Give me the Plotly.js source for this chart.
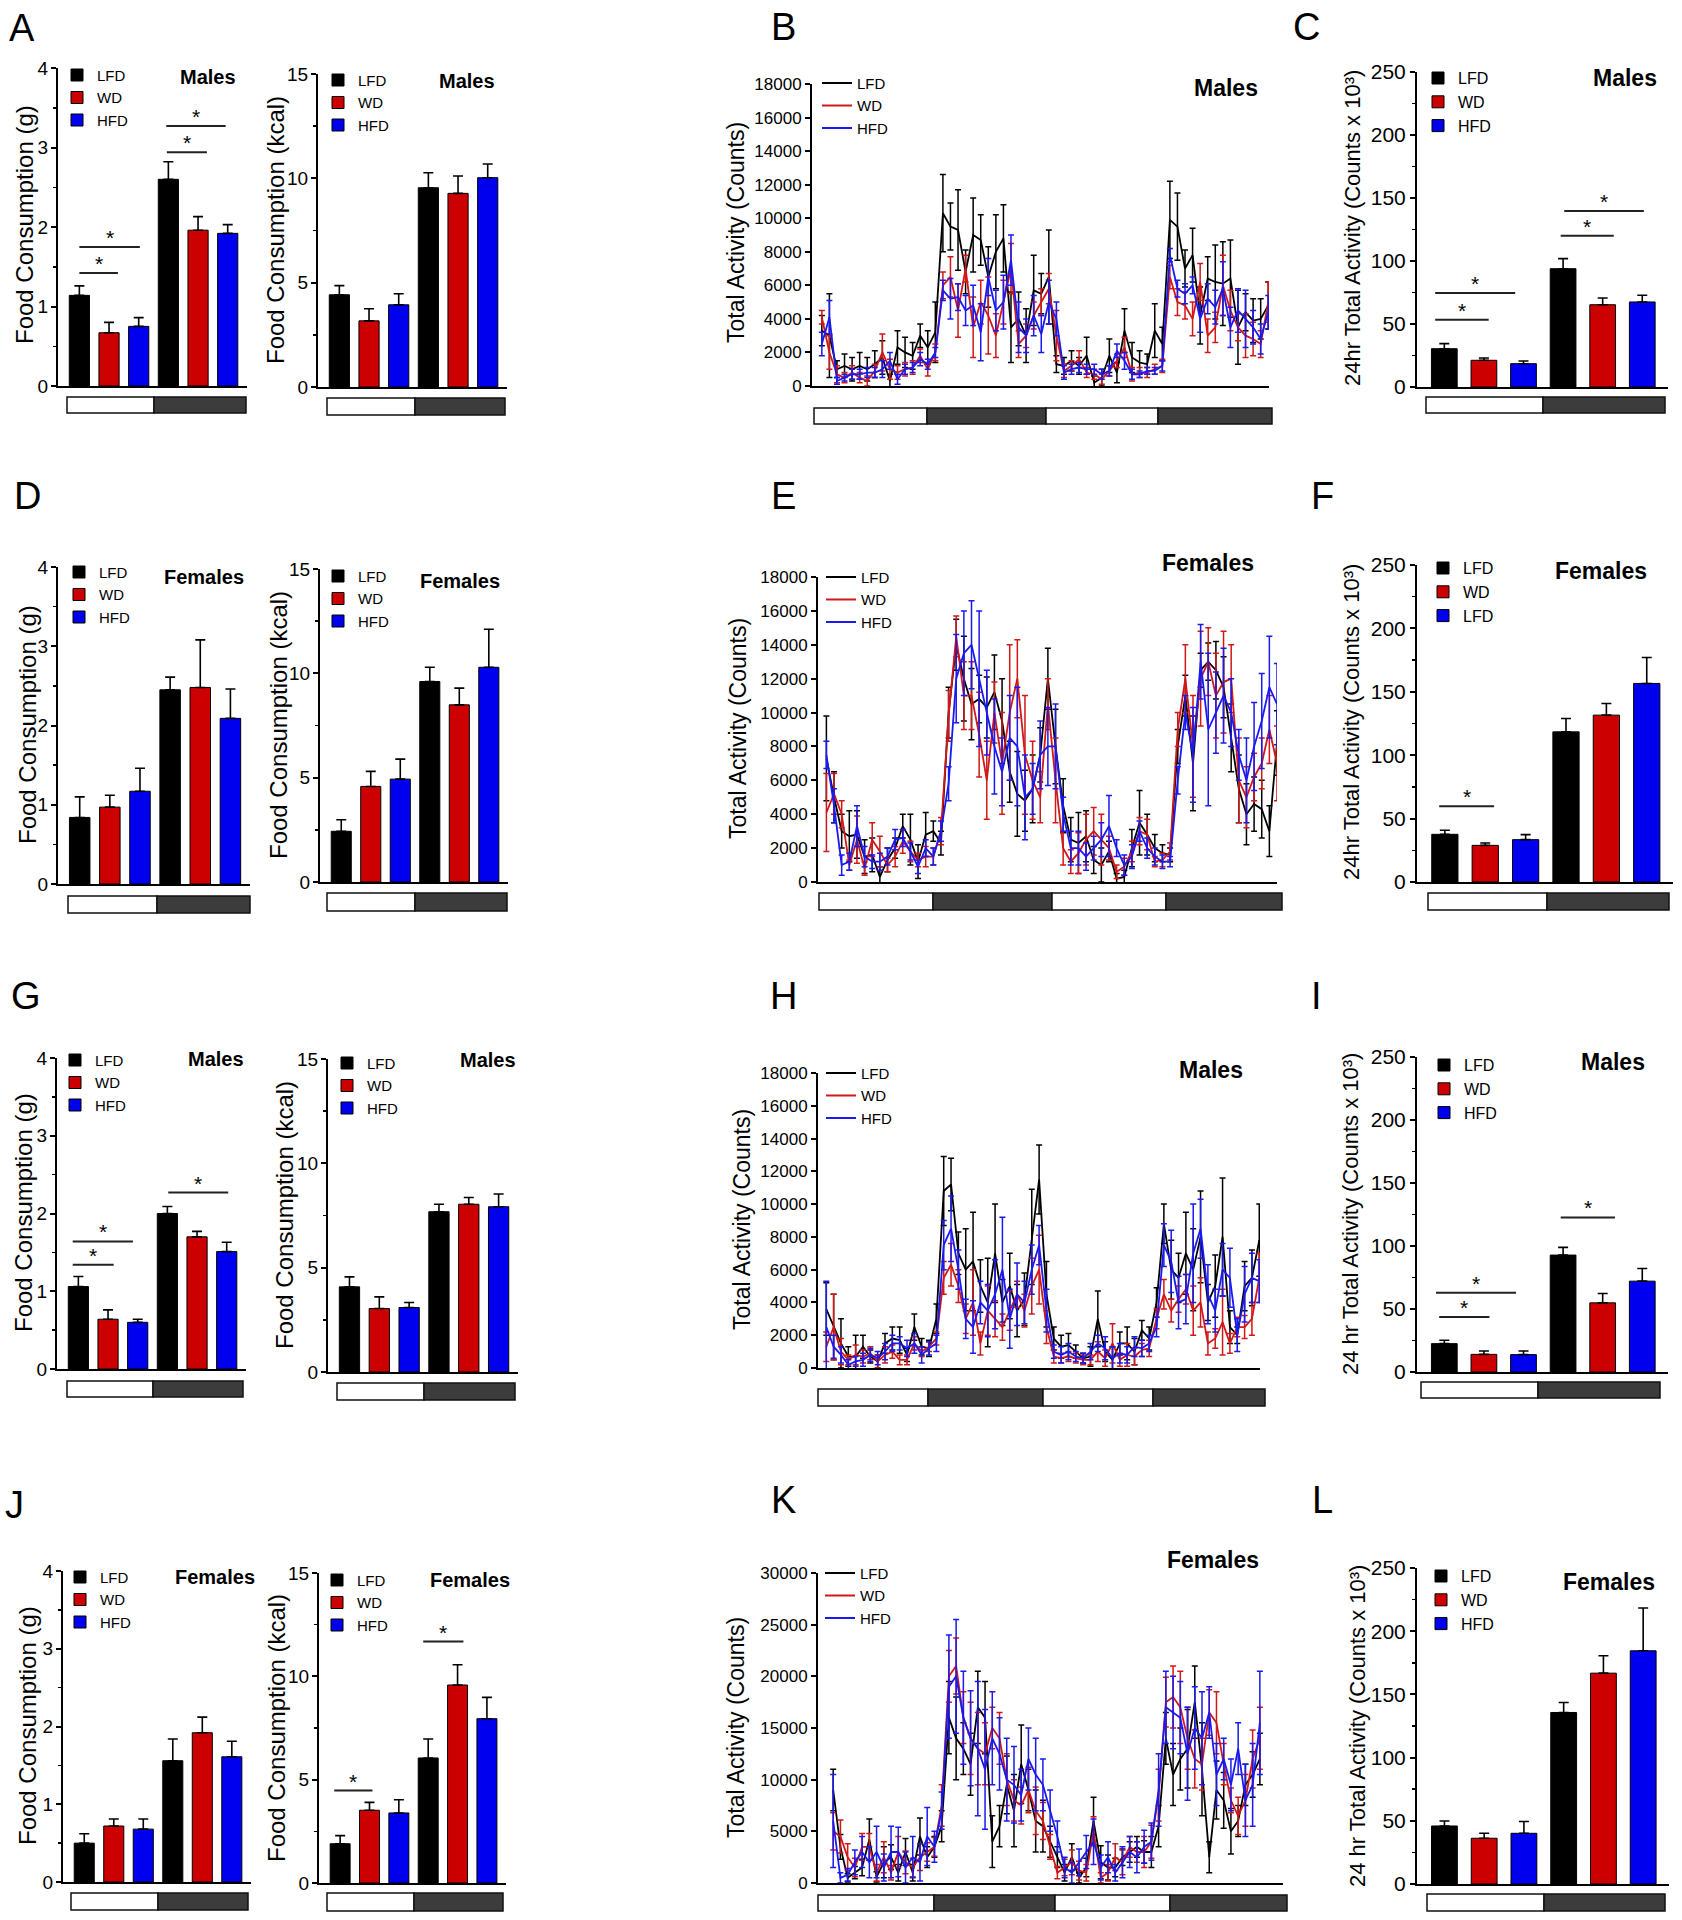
<!DOCTYPE html>
<html><head><meta charset="utf-8">
<script src="https://cdn.plot.ly/plotly-3.0.1.min.js"></script>
<style>html,body{margin:0;padding:0;background:#fff}#chart{width:1682px;height:1920px}</style>
</head><body><div id="chart"></div>
<script>
// ---------------- DATA ----------------
const diets = ['LFD', 'WD', 'HFD'];
const dietsF = ['LFD', 'WD', 'LFD']; // legend as printed in panel F
// bar order: light LFD, WD, HFD, dark LFD, WD, HFD
const A_gram = [1.14, 0.67, 0.75, 2.60, 1.96, 1.92];
const A_gram_sem = [0.12, 0.13, 0.11, 0.22, 0.17, 0.11];
const A_kcal = [4.42, 3.17, 3.94, 9.55, 9.28, 10.03];
const A_kcal_sem = [0.44, 0.58, 0.53, 0.72, 0.83, 0.66];
const C_act = [30.4, 21.2, 18.5, 93.9, 65.3, 67.5];
const C_act_sem = [4.0, 1.8, 2.1, 8.0, 5.3, 5.3];
const D_gram = [0.84, 0.97, 1.17, 2.45, 2.48, 2.09];
const D_gram_sem = [0.26, 0.15, 0.29, 0.16, 0.60, 0.37];
const D_kcal = [2.43, 4.58, 4.93, 9.61, 8.49, 10.29];
const D_kcal_sem = [0.55, 0.72, 0.96, 0.68, 0.80, 1.82];
const F_act = [37.6, 28.9, 33.4, 118.4, 131.6, 156.6];
const F_act_sem = [3.2, 1.9, 4.0, 10.6, 9.2, 20.5];
const G_gram = [1.06, 0.64, 0.60, 2.00, 1.70, 1.51];
const G_gram_sem = [0.13, 0.12, 0.04, 0.09, 0.07, 0.12];
const G_kcal = [4.08, 3.04, 3.09, 7.68, 8.04, 7.92];
const G_kcal_sem = [0.48, 0.56, 0.24, 0.36, 0.32, 0.61];
const I_act = [22.5, 14.0, 13.8, 92.8, 54.9, 72.1];
const I_act_sem = [2.7, 2.7, 2.9, 6.1, 7.4, 10.1];
const J_gram = [0.50, 0.72, 0.68, 1.56, 1.92, 1.61];
const J_gram_sem = [0.12, 0.09, 0.13, 0.28, 0.20, 0.20];
const J_kcal = [1.90, 3.52, 3.39, 6.05, 9.58, 7.95];
const J_kcal_sem = [0.39, 0.38, 0.64, 0.92, 0.98, 1.03];
const L_act = [45.9, 36.2, 40.1, 135.7, 166.8, 184.5];
const L_act_sem = [4.0, 3.9, 9.3, 7.9, 13.8, 33.8];

// time series (activity counts per bin, 60 bins over 48 h)
const B_LFD = [3300,3000,1000,1200,1000,1200,1000,1300,1700,300, 2300,2000,1800,3000,2300,3200,10300,9500,9300,6800, 9000,8700,6500,8000,8800,3500,4000,3000,5700,5500, 6500,1300,1200,1500,1200,1800,200,500,1800,800, 3300,1700,1400,1300,3300,2500,9900,9500,7000,7800, 4200,6400,6200,6100,6400,3500,4400,3900,4000,4800];
const B_WD = [4100,2000,700,500,800,500,300,900,2000,1000, 800,1000,1100,1800,1000,2000,6000,6500,4500,7000, 3500,5000,4200,3000,5000,7000,2500,3000,4200,5000, 5800,3000,900,1200,1600,800,700,400,900,1500, 2300,700,800,800,1000,1200,6500,5000,4800,4000, 6200,3000,3500,6000,4500,3500,3000,2800,2500,5000];
const B_HFD = [2500,4100,300,500,700,700,800,800,1000,1500, 400,1000,1100,1600,1300,2000,5700,5200,5300,4500, 4800,3200,6500,4500,5000,7500,3500,3000,4200,3100, 5000,4000,800,1000,1100,1000,1000,700,900,2100, 1500,700,700,900,900,1200,7800,5800,5500,6000, 4000,5200,4700,5800,3500,4500,4000,3500,2800,4400];
const B_LFD_sem = [900,2500,500,700,700,800,700,800,1000,400, 1000,900,800,700,1000,1800,2300,1400,2400,1300, 2200,1500,1800,2200,2000,2100,1600,1600,2100,1200, 2800,500,500,600,500,1100,400,500,1000,600, 1300,900,700,600,1600,1000,2300,2000,1100,1600, 1700,1300,2200,2500,2300,2200,1100,1300,1200,1400];
const B_WD_sem = [400,1000,500,300,400,300,300,400,1100,600, 400,400,400,400,400,500,800,1200,1600,800, 1800,1300,2300,1300,1300,1500,800,700,800,800, 900,1500,400,300,500,300,300,300,300,400, 600,400,300,300,300,400,700,800,800,1000, 1100,1000,900,1800,1200,800,1300,1000,800,1200];
const B_HFD_sem = [700,1000,200,200,300,300,300,300,500,500, 300,300,300,400,300,300,600,1200,800,900, 1200,1700,1100,1200,1600,1500,1500,1000,1200,1100, 1300,1000,400,300,300,300,300,300,300,400, 500,300,200,200,200,300,400,500,600,500, 800,900,1000,1600,1200,1300,1700,1000,900,1000];

const E_LFD = [7300,5000,3000,2700,2800,1500,1600,300,1300,2000, 3300,2500,1200,2800,3000,2300,10000,14000,12000,10500, 10800,10300,11200,9500,6500,5200,4800,5500,7500,12000, 8000,4500,2500,2300,2700,1300,1000,1800,200,300, 2000,3500,2800,2000,1700,1600,8000,11000,7000,12500, 13000,12500,11500,8500,5500,4000,4600,4300,3000,8200];
const E_WD = [4100,5200,4000,1000,2500,800,2500,1800,1000,1500, 2400,1800,1300,1500,1500,3000,9800,14500,11000,11000, 8700,6000,10000,7000,10000,12000,7500,6000,5000,10500, 6000,2000,1200,1700,2500,3000,2500,2000,600,900, 1800,3000,2800,1200,1300,1800,9000,12000,8000,12000, 13000,11000,11800,12000,6000,5000,6200,7000,9000,7000];
const E_HFD = [7500,4500,1000,1200,3300,1500,1200,1200,1500,2500, 2600,1800,900,2000,1500,3000,5800,12000,13500,14000, 12000,10000,8000,6500,8500,8000,5000,5500,7500,8000, 8000,4000,2000,2000,1500,2000,2500,3300,2000,1000, 1500,3000,2000,1500,1200,1200,6000,10000,7500,13000, 9000,10000,11000,10000,7500,6000,8000,9500,11500,10500];
const E_LFD_sem = [2500,1500,1000,1500,1400,1000,1000,600,700,600, 700,1500,1000,1300,600,700,1500,1500,2500,2100, 1400,1800,2200,2500,1800,2500,1800,2000,1600,1800, 2200,1600,1300,1800,1500,800,1000,600,300,400, 1100,1900,1200,800,500,400,1000,1200,2800,1000, 1100,1700,1800,2000,2000,1800,1600,1700,1500,1900];
const E_WD_sem = [2300,1200,800,300,1400,400,1000,900,400,600, 700,600,400,600,500,800,1500,1200,2000,2000, 2500,2300,1800,3000,4000,2300,3500,2300,1500,1500, 2500,1000,700,1200,1500,1400,1500,700,400,500, 600,800,900,300,400,500,1000,2000,3000,2800, 2000,2500,3000,2000,2500,1800,1400,1500,2000,2200];
const E_HFD_sem = [800,1000,600,500,1200,600,400,500,500,600, 500,500,400,500,500,600,1000,2600,2500,2600, 4000,2500,2800,2000,2500,3500,2500,1500,2000,2300, 2500,1000,1000,1000,800,700,1000,1800,500,600, 700,600,600,500,400,300,800,1000,2800,2200, 4500,2400,2800,2000,1500,2500,2600,2800,3000,2400];

const H_LFD = [3600,2500,1500,700,700,1300,700,400,1500,1800, 1700,800,2500,1300,1200,3000,10800,11200,7000,6000, 6500,5000,4000,7000,4000,5000,3500,4200,8000,11500, 4500,1800,1300,1400,1000,600,700,3000,1000,500, 1500,1500,1000,2300,1800,4000,8800,6000,5500,7000, 6000,8000,4000,5000,8000,2500,2000,5000,5500,7800];
const H_WD = [1300,2500,1000,500,800,700,900,400,800,1000, 500,500,1500,1000,1300,1800,5500,6300,5000,3000, 4000,1500,3500,3000,2500,3500,4500,3500,5000,6000, 2500,700,600,700,600,500,500,1000,600,1500, 500,800,700,1100,1200,3000,4500,3500,4200,4800, 3500,4000,1500,1800,2800,1500,2500,2500,3000,5500];
const H_HFD = [2500,1300,800,200,400,500,800,600,1000,1500, 1500,1200,1500,800,1200,1500,7500,8500,6000,3000, 2500,4000,3500,4500,6000,3000,4500,4000,6000,7500, 3500,1000,800,1000,700,600,1000,1500,1200,600, 900,800,1300,1200,1500,2500,7500,6500,4000,4200, 7000,8500,4500,3500,6000,5500,2000,4500,5500,5300];
const H_LFD_sem = [1600,2000,1500,600,1300,700,400,400,600,700, 800,400,800,500,500,900,2100,1600,1300,2500, 3000,1600,2700,3000,1400,2000,1600,1600,2900,2100, 2000,700,700,700,400,300,600,1700,600,800, 700,1000,800,600,700,900,1200,1800,1500,2500, 2500,2800,1100,1900,3600,1000,500,1500,1700,2200];
const H_WD_sem = [900,2000,800,300,600,400,400,400,500,400, 300,300,400,300,300,400,1000,1300,1000,900, 2000,700,1500,1100,800,1200,800,1000,1700,2100, 1000,400,300,300,300,300,300,600,500,1200, 400,700,500,400,500,600,900,700,800,900, 1500,1500,700,600,2000,600,600,700,1000,1500];
const H_HFD_sem = [2800,700,500,300,300,400,400,400,500,500, 400,500,600,500,400,500,1500,2000,1200,1200, 1600,1300,1600,2100,3200,1800,1900,1300,1500,1200, 1300,400,500,500,300,300,500,500,700,700, 600,500,600,500,500,600,1300,1900,1600,1500, 3000,1800,1800,1300,1600,1800,1000,1700,1500,1300];

const K_LFD = [9000,3500,500,1000,1500,4200,600,2000,2500,1000, 3000,1000,4500,2500,3500,5500,16000,14000,13000,11500, 17000,16000,4000,5500,9500,7000,11500,9000,6000,5500, 4000,2500,1000,2500,500,1500,6000,2000,1500,1500, 2500,3000,3500,3000,3000,5500,14000,10500,12000,13000, 17500,11000,2500,9000,8000,5000,6000,9500,10500,12000];
const K_WD = [5000,4500,2500,1500,3500,3500,1000,2500,1000,3000, 2000,1500,2500,3000,3500,7500,20000,21000,16000,14000, 13000,12500,15000,14000,10000,8000,7500,9000,7000,6000, 3500,1000,1500,2000,1200,1000,5000,500,1000,2500, 2000,3500,3000,3000,4000,8500,17500,18000,17000,14000, 12000,11500,16500,15500,11500,8000,6500,8000,12000,14000];
const K_HFD = [6000,500,800,2000,3000,2000,3000,1500,3000,3000, 1500,2500,2000,4500,3500,7000,19000,20000,16000,14000, 13000,11000,14000,12500,10000,9500,8500,12000,10500,9500, 7000,4500,1500,1000,2000,3000,4000,1500,2500,1000, 2000,3000,2500,3500,4000,9000,17000,16500,16000,12500, 15000,14000,16500,10500,12000,9500,13000,8000,9500,15500];
const K_LFD_sem = [2000,1200,400,600,800,2000,500,1500,1200,800, 1300,800,1800,1000,1000,1500,3500,4000,2500,3000, 3500,3500,2500,2000,2800,3500,3800,2000,3000,2500, 1500,1000,800,1300,500,900,2300,1600,1200,900, 800,1000,1000,1100,1500,2000,2500,3000,3000,3800, 3500,4500,1500,2800,2700,2200,1500,2000,2200,2500];
const K_WD_sem = [1800,1600,1300,900,1300,1300,800,1500,700,1500, 1100,900,1300,900,900,2000,2500,2700,2500,3500, 3500,3000,2000,2500,2500,2000,1800,2200,2300,1800, 1200,600,800,1200,900,800,1400,500,800,1300, 1200,1000,1000,1500,1600,2500,2400,3000,3500,3000, 2800,2500,2200,3000,2000,1200,1800,2500,2800,3000];
const K_HFD_sem = [4500,500,600,1200,1500,1500,2500,1300,2500,2400, 1500,2000,1800,2800,1500,1800,5000,5500,4500,4600, 6500,5800,4500,3500,4000,3700,2500,3000,3500,2500, 2000,1500,1000,1000,1300,1600,2200,1200,1500,800, 1500,1500,1500,1600,1800,3500,3500,3500,3500,4500, 4000,4500,2500,3000,2000,2500,2500,3500,4000,5000];

// ---------------- LAYOUT HELPERS ----------------
const W = 1682, H = 1920;
const px = v => v / W;
const py = v => 1 - v / H;
const SANS = 'Liberation Sans, Arial, Helvetica, sans-serif';
const barColors = ['#000000', '#cc0000', '#0000ee'];
const lineColors = ['#000000', '#d01818', '#1a1af0'];
const titleAct = '24hr Total Activity (Counts x 10\u00B3)';
const titleAct2 = '24 hr Total Activity (Counts x 10\u00B3)';

const panels = [
  // Row 1
  {kind:'food', mean:A_gram, sem:A_gram_sem, names:diets, box:[58,247,68,386], ymax:4, dtick:1, minor:0.5, title:'Food Consumption (g)', tx:24, ty:225, sex:'Males', sxy:[208,77], leg:[77,75], ld:[67,154,246], ldy:[397,413], sig:[[0,1.3,1.42],[0,2.04,1.75],[2.95,4.3,2.94],[2.93,4.93,3.27]]},
  {kind:'food', mean:A_kcal, sem:A_kcal_sem, names:diets, box:[318,507,74,387], ymax:15, dtick:5, minor:2.5, title:'Food Consumption (kcal)', tx:276, ty:230, sex:'Males', sxy:[467,81], leg:[338,80], ld:[327,415,505], ldy:[398,415], sig:[]},
  {kind:'line', series:[B_LFD,B_WD,B_HFD], sems:[B_LFD_sem,B_WD_sem,B_HFD_sem], box:[812,1269,84,386], ymax:18000, dtick:2000, xr:[-1.3,59.1], title:'Total Activity (Counts)', tx:736, ty:233, sex:'Males', sxy:[1226,88], leg:[837,83], ld:[814,927,1046,1158,1272], ldy:[408,424]},
  {kind:'act', mean:C_act, sem:C_act_sem, names:diets, box:[1417,1668,72,387], ymax:250, dtick:50, minor:25, title:titleAct, tx:1352, ty:228, sex:'Males', sxy:[1625,78], leg:[1438,78], ld:[1426,1543,1665], ldy:[397,413], sig:[[-0.23,1.12,53.4],[-0.23,1.79,74.6],[2.94,4.28,120],[3.03,5.04,139.7]]},
  // Row 2
  {kind:'food', mean:D_gram, sem:D_gram_sem, names:diets, box:[58,250,567,884], ymax:4, dtick:1, minor:0.5, title:'Food Consumption (g)', tx:27, ty:725, sex:'Females', sxy:[204,577], leg:[79,572], ld:[68,157,250], ldy:[896,913], sig:[]},
  {kind:'food', mean:D_kcal, sem:D_kcal_sem, names:diets, box:[320,508,569,882], ymax:15, dtick:5, minor:2.5, title:'Food Consumption (kcal)', tx:278, ty:725, sex:'Females', sxy:[460,581], leg:[338,576], ld:[327,415,507], ldy:[893,911], sig:[]},
  {kind:'line', series:[E_LFD,E_WD,E_HFD], sems:[E_LFD_sem,E_WD_sem,E_HFD_sem], box:[818,1277,577,882], ymax:18000, dtick:2000, xr:[-1.1,59.0], title:'Total Activity (Counts)', tx:738, ty:729, sex:'Females', sxy:[1208,563], leg:[841,577], ld:[819,933,1052,1166,1282], ldy:[893,910]},
  {kind:'act', mean:F_act, sem:F_act_sem, names:dietsF, box:[1417,1673,565,882], ymax:250, dtick:50, minor:25, title:titleAct, tx:1352, ty:722, sex:'Females', sxy:[1601,571], leg:[1443,568], ld:[1428,1547,1669], ldy:[893,910], sig:[[-0.14,1.22,59.7]]},
  // Row 3
  {kind:'food', mean:G_gram, sem:G_gram_sem, names:diets, box:[57,246,1058,1369], ymax:4, dtick:1, minor:0.5, title:'Food Consumption (g)', tx:23, ty:1213, sex:'Males', sxy:[216,1059], leg:[75,1060], ld:[67,153,243], ldy:[1381,1397], sig:[[-0.19,1.19,1.34],[-0.19,1.84,1.64],[3.03,5.05,2.27]]},
  {kind:'food', mean:G_kcal, sem:G_kcal_sem, names:diets, box:[328,518,1059,1372], ymax:15, dtick:5, minor:2.5, title:'Food Consumption (kcal)', tx:284, ty:1215, sex:'Males', sxy:[488,1060], leg:[347,1063], ld:[337,424,515], ldy:[1383,1400], sig:[]},
  {kind:'line', series:[H_LFD,H_WD,H_HFD], sems:[H_LFD_sem,H_WD_sem,H_HFD_sem], box:[818,1260,1073,1368], ymax:18000, dtick:2000, xr:[-1.13,59.1], title:'Total Activity (Counts)', tx:742, ty:1220, sex:'Males', sxy:[1211,1070], leg:[841,1073], ld:[818,928,1043,1153,1265], ldy:[1389,1406]},
  {kind:'act', mean:I_act, sem:I_act_sem, names:diets, box:[1417,1668,1057,1372], ymax:250, dtick:50, minor:25, title:titleAct2, tx:1350, ty:1214, sex:'Males', sxy:[1613,1062], leg:[1444,1065], ld:[1421,1538,1660], ldy:[1382,1398], sig:[[-0.13,1.14,43.7],[-0.21,1.81,62.8],[2.94,4.31,122.7]]},
  // Row 4
  {kind:'food', mean:J_gram, sem:J_gram_sem, names:diets, box:[63,251,1571,1882], ymax:4, dtick:1, minor:0.5, title:'Food Consumption (g)', tx:27, ty:1726, sex:'Females', sxy:[215,1577], leg:[80,1577], ld:[71,158,248], ldy:[1893,1910], sig:[]},
  {kind:'food', mean:J_kcal, sem:J_kcal_sem, names:diets, box:[319,506,1573,1883], ymax:15, dtick:5, minor:2.5, title:'Food Consumption (kcal)', tx:276, ty:1728, sex:'Females', sxy:[470,1580], leg:[337,1580], ld:[327,414,503], ldy:[1893,1911], sig:[[-0.2,1.1,4.47],[2.83,4.2,11.68]]},
  {kind:'line', series:[K_LFD,K_WD,K_HFD], sems:[K_LFD_sem,K_WD_sem,K_HFD_sem], box:[818,1283,1573,1883], ymax:30000, dtick:5000, xr:[-2.1,62.2], title:'Total Activity (Counts)', tx:736, ty:1728, sex:'Females', sxy:[1213,1560], leg:[840,1573], ld:[818,934,1055,1170,1287], ldy:[1895,1911]},
  {kind:'act', mean:L_act, sem:L_act_sem, names:diets, box:[1417,1669,1568,1884], ymax:250, dtick:50, minor:25, title:titleAct2, tx:1357, ty:1726, sex:'Females', sxy:[1609,1582], leg:[1441,1576], ld:[1427,1544,1665], ldy:[1894,1911], sig:[]}
];

const letters = [['A',22,28],['B',783,27],['C',1306,27],['D',27,496],['E',783,496],['F',1322,496],['G',26,996],['H',783,996],['I',1316,996],['J',14,1505],['K',783,1500],['L',1322,1500]];

const traces = [];
const shapes = [];
const annotations = [];
const layout = {
  width: W, height: H, margin:{l:0,r:0,t:0,b:0,pad:0},
  paper_bgcolor:'#ffffff', plot_bgcolor:'rgba(0,0,0,0)',
  font:{family:SANS, color:'#000'},
  barmode:'overlay', hovermode:false, showlegend:true
};

panels.forEach((p, idx) => {
  const n = idx + 1;
  const sfx = n === 1 ? '' : String(n);
  const xr = 'x' + sfx, yr = 'y' + sfx;
  const legKey = 'legend' + sfx;
  const isFood = p.kind === 'food';
  const isLine = p.kind === 'line';
  const tickSize = isFood ? 19 : (isLine ? 17 : 21);
  const xrange = isLine ? p.xr : (isFood ? [-0.72, 5.65] : [-0.69, 5.65]);

  layout['xaxis' + sfx] = {
    domain:[px(p.box[0]), px(p.box[1])], range:xrange, anchor:yr,
    showline:true, linewidth:2, linecolor:'#000', showgrid:false, zeroline:false,
    ticks:'', showticklabels:false, fixedrange:true
  };
  const yax = {
    domain:[py(p.box[3]), py(p.box[2])], range:[0, p.ymax], anchor:xr,
    showline:true, linewidth:2, linecolor:'#000', showgrid:false, zeroline:false,
    ticks:'outside', ticklen:5, tickwidth:2, tickcolor:'#000', tick0:0, dtick:p.dtick,
    tickformat:'d', ticklabelstandoff: isFood ? -1 : 0,
    tickfont:{family:SANS, size:tickSize, color:'#000'}, fixedrange:true
  };
  if (p.minor) yax.minor = {dtick:p.minor, tick0:0, ticks:'outside', ticklen:3, tickwidth:1.5, tickcolor:'#000', showgrid:false};
  layout['yaxis' + sfx] = yax;

  const legFont = isFood ? {family:SANS, size:15, color:'#000'} : (isLine ? {family:SANS, size:15, color:'#000'} : {family:SANS, size:16, color:'#000'});
  const legH = legFont.size * 1.3 + 3;
  layout[legKey] = {
    x:px(p.leg[0] - 20), y:py(p.leg[1] - legH / 2 - 5), xanchor:'left', yanchor:'top',
    bgcolor:'rgba(0,0,0,0)', borderwidth:0, font:legFont, tracegroupgap:0,
    itemclick:false, itemdoubleclick:false
  };

  if (isLine) {
    for (let k = 0; k < 3; k++) {
      traces.push({
        type:'scatter', mode:'lines', y:p.series[k], name:diets[k],
        line:{color:lineColors[k], width:1.8},
        error_y:{type:'data', array:p.sems[k], symmetric:true, color:lineColors[k], thickness:1.5, width:3},
        xaxis:xr, yaxis:yr, legend:legKey, hoverinfo:'skip'
      });
    }
  } else {
    const bw = isFood ? 0.68 : 0.65;
    for (let k = 0; k < 3; k++) {
      traces.push({
        type:'bar', x:[k, k + 3], y:[p.mean[k], p.mean[k + 3]], width:bw, name:p.names[k],
        marker:{color:barColors[k], line:{color:'#000', width:1}},
        error_y:{type:'data', symmetric:false, array:[p.sem[k], p.sem[k + 3]], arrayminus:[0, 0], color:'#000', thickness:1.6, width:5},
        xaxis:xr, yaxis:yr, legend:legKey, hoverinfo:'skip'
      });
    }
    (p.sig || []).forEach(s => {
      shapes.push({type:'line', xref:xr, yref:yr, x0:s[0], x1:s[1], y0:s[2], y1:s[2], line:{color:'#222', width:2}});
      annotations.push({xref:xr, yref:yr, x:(s[0] + s[1]) / 2, y:s[2], text:'*', showarrow:false, xanchor:'center', yanchor:'bottom', yshift:-4, font:{family:SANS, size:21, color:'#000'}});
    });
  }

  // light / dark phase bars
  for (let j = 0; j < p.ld.length - 1; j++) {
    shapes.push({
      type:'rect', xref:'paper', yref:'paper', x0:px(p.ld[j]), x1:px(p.ld[j + 1]), y0:py(p.ldy[1]), y1:py(p.ldy[0]),
      fillcolor: j % 2 === 0 ? '#ffffff' : '#3c3c3c', line:{color:'#111', width:1.5}
    });
  }

  // y-axis title
  annotations.push({
    xref:'paper', yref:'paper', x:px(p.tx), y:py(p.ty), text:p.title, textangle:-90, showarrow:false,
    xanchor:'center', yanchor:'middle',
    font:{family:SANS, size: isFood ? 24 : (isLine ? 23 : 22), color:'#000'}
  });
  // sex label
  annotations.push({
    xref:'paper', yref:'paper', x:px(p.sxy[0]), y:py(p.sxy[1]), text:'<b>' + p.sex + '</b>', showarrow:false,
    xanchor:'center', yanchor:'middle',
    font:{family:SANS, size: isFood ? 20 : 23, color:'#000'}
  });
});

letters.forEach(l => {
  annotations.push({xref:'paper', yref:'paper', x:px(l[1]), y:py(l[2]), text:l[0], showarrow:false, xanchor:'center', yanchor:'middle', font:{family:SANS, size:38, color:'#000'}});
});

layout.shapes = shapes;
layout.annotations = annotations;

Plotly.newPlot('chart', traces, layout, {staticPlot:true, displayModeBar:false});
</script>
</body></html>
